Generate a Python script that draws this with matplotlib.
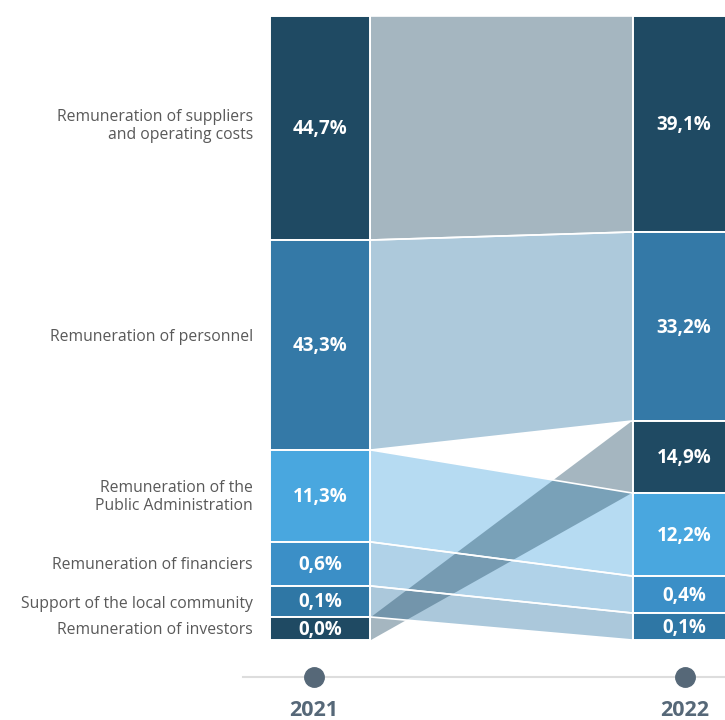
import matplotlib.pyplot as plt
from matplotlib.patches import Rectangle, Polygon

# value added distribution, 2021 vs 2022
categories = ["Remuneration of suppliers\nand operating costs",
              "Remuneration of personnel",
              "Remuneration of the\nPublic Administration",
              "Remuneration of financiers",
              "Support of the local community",
              "Remuneration of investors"]
share_2021 = [44.7, 43.3, 11.3, 0.6, 0.1, 0.0]
share_2022 = [39.1, 33.2, 12.2, 0.4, 0.1, 14.9]
years = ["2021", "2022"]

# stacking order of the 2022 column (indices into categories)
order_2022 = [0, 1, 5, 2, 3, 4]

colors = ["#1F4A63", "#3479A7", "#49A7DF", "#3B8FC7", "#2F77A5", "#1F4A63"]

# block heights are drawn for readability, not to scale (px)
h_2021 = [224, 210, 92, 44, 31, 23]
h_2022 = [216, 189, 83, 37, 27, 72]   # same order as categories

TOP = 16
X0, X1 = 270, 370          # 2021 column
X2, X3 = 633, 760          # 2022 column (runs off the right edge)
label_dy = [-2, -8, 1, 1, 2, 1]

def pct(v):
    return f"{v:.1f}%".replace(".", ",")

def stack(heights, order):
    spans = {}
    y = TOP
    for i in order:
        spans[i] = (y, y + heights[i])
        y += heights[i]
    return spans

span_l = stack(h_2021, range(len(categories)))
span_r = stack(h_2022, order_2022)

fig = plt.figure(figsize=(7.25, 7.2), dpi=100)
ax = fig.add_axes([0, 0, 1, 1])
ax.set_xlim(0, 725)
ax.set_ylim(720, 0)
ax.axis("off")

# flows between the columns, investors last so it sits on top
for i in range(len(categories)):
    a0, a1 = span_l[i]
    b0, b1 = span_r[i]
    ax.add_patch(Polygon([(X1 + 1, a0), (X2 - 1, b0), (X2 - 1, b1), (X1 + 1, a1)],
                         closed=True, facecolor=colors[i], alpha=0.4,
                         edgecolor="none", zorder=2))
    if i != 5:
        ax.plot([X1 + 1, X2 - 1], [a0, b0], color="white", lw=1.2, zorder=2.5)
        ax.plot([X1 + 1, X2 - 1], [a1, b1], color="white", lw=1.2, zorder=2.5)

for spans, shares, xa, xb in [(span_l, share_2021, X0, X1), (span_r, share_2022, X2, X3)]:
    for i, (y0, y1) in spans.items():
        ax.add_patch(Rectangle((xa, y0), xb - xa, y1 - y0, facecolor=colors[i],
                               edgecolor="white", lw=1.4, zorder=3))
        xc = (xa + 735) / 2 if xb > 725 else (xa + xb) / 2
        ax.text(xc, (y0 + y1) / 2 + 1, pct(shares[i]), color="white",
                fontsize=13.5, fontweight="bold", family="Open Sans",
                ha="center", va="center", zorder=4)

for i, lab in enumerate(categories):
    y0, y1 = span_l[i]
    ax.text(253, (y0 + y1) / 2 + label_dy[i], lab, color="#595959", fontsize=11.3,
            family="Open Sans", ha="right", va="center", linespacing=1.1)

# timeline at the bottom
ax.plot([243, 725], [677, 677], color="#DDDDDD", lw=1.5, zorder=1)
for x, yr in zip([314, 685], years):
    ax.plot(x, 677, "o", ms=14, color="#566878", zorder=2)
    ax.text(x, 710, yr, color="#566878", fontsize=15.5, fontweight="bold",
            family="Open Sans", ha="center", va="center")

fig.savefig("out.png", dpi=100)
